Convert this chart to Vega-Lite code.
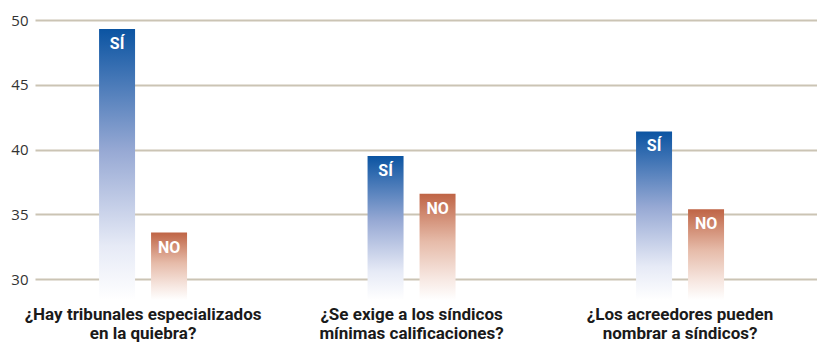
{
  "$schema": "https://vega.github.io/schema/vega-lite/v6.json",
  "width": 782,
  "height": 280,
  "autosize": {"type": "none"},
  "padding": {"left": 35, "top": 20, "right": 0, "bottom": 43},
  "background": "white",
  "config": {"view": {"stroke": null}},
  "data": {
    "values": [
      {"pregunta": "¿Hay tribunales especializados\nen la quiebra?", "respuesta": "SÍ", "valor": 49.3},
      {"pregunta": "¿Hay tribunales especializados\nen la quiebra?", "respuesta": "NO", "valor": 33.6},
      {"pregunta": "¿Se exige a los síndicos\nmínimas calificaciones?", "respuesta": "SÍ", "valor": 39.5},
      {"pregunta": "¿Se exige a los síndicos\nmínimas calificaciones?", "respuesta": "NO", "valor": 36.6},
      {"pregunta": "¿Los acreedores pueden\nnombrar a síndicos?", "respuesta": "SÍ", "valor": 41.4},
      {"pregunta": "¿Los acreedores pueden\nnombrar a síndicos?", "respuesta": "NO", "valor": 35.4}
    ]
  },
  "encoding": {
    "x": {
      "field": "pregunta",
      "type": "nominal",
      "sort": null,
      "scale": {"paddingInner": 0.6723, "paddingOuter": 0.2924, "align": 0.408},
      "axis": {
        "title": null,
        "labelAngle": 0,
        "domain": false,
        "ticks": false,
        "labelPadding": 6,
        "labelLimit": 0,
        "labelFont": "Roboto",
        "labelFontWeight": "bold",
        "labelFontSize": 17,
        "labelColor": "#1a1a1a",
        "labelLineHeight": 19,
        "labelExpr": "split(datum.value, '\\n')"
      }
    },
    "xOffset": {
      "field": "respuesta",
      "type": "nominal",
      "scale": {"domain": ["SÍ", "NO"], "paddingInner": 0.3077, "paddingOuter": 0}
    },
    "y": {
      "field": "valor",
      "type": "quantitative",
      "scale": {"domain": [28.4, 50], "zero": false, "nice": false},
      "axis": {
        "title": null,
        "values": [30, 35, 40, 45, 50],
        "domain": false,
        "ticks": false,
        "labelPadding": 7,
        "labelFont": "Open Sans",
        "labelFontSize": 15,
        "labelColor": "#333333",
        "gridColor": "#cbc4b4",
        "gridWidth": 2
      }
    }
  },
  "layer": [
    {
      "transform": [{"filter": "datum.respuesta === 'SÍ'"}],
      "mark": {
        "type": "bar",
        "color": {
          "gradient": "linear", "x1": 0, "y1": 0, "x2": 0, "y2": 1,
          "stops": [
            {"offset": 0, "color": "#0b54a2"},
            {"offset": 0.45, "color": "#97a9d4"},
            {"offset": 0.8, "color": "#e6eaf6"},
            {"offset": 1, "color": "#ffffff"}
          ]
        }
      },
      "encoding": {"y2": {"datum": 28.4}}
    },
    {
      "transform": [{"filter": "datum.respuesta === 'NO'"}],
      "mark": {
        "type": "bar",
        "color": {
          "gradient": "linear", "x1": 0, "y1": 0, "x2": 0, "y2": 1,
          "stops": [
            {"offset": 0, "color": "#bf6445"},
            {"offset": 0.45, "color": "#e6bba9"},
            {"offset": 0.8, "color": "#f7e8e2"},
            {"offset": 1, "color": "#ffffff"}
          ]
        }
      },
      "encoding": {"y2": {"datum": 28.4}}
    },
    {
      "mark": {
        "type": "text",
        "baseline": "top",
        "dy": 7,
        "font": "Roboto",
        "fontWeight": "bold",
        "fontSize": 16,
        "color": "white"
      },
      "encoding": {"text": {"field": "respuesta"}}
    }
  ]
}
